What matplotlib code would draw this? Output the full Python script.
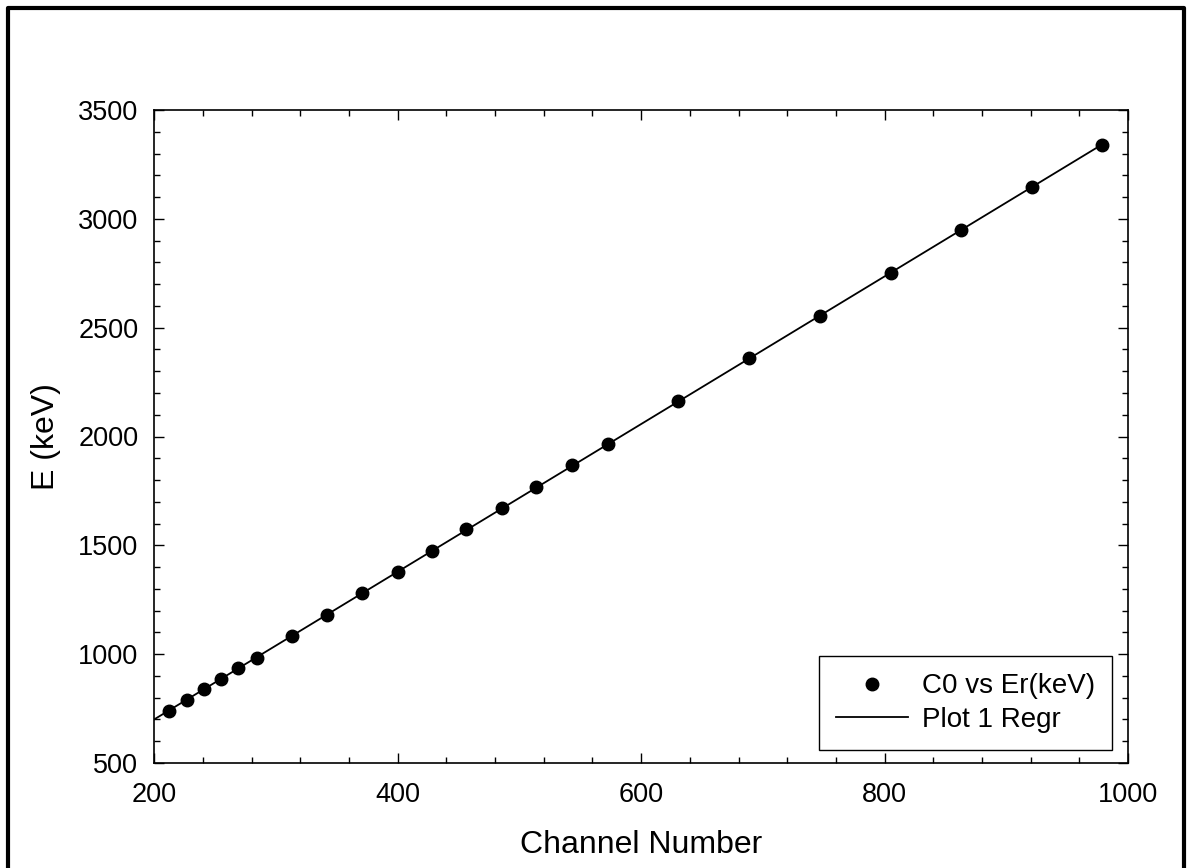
import matplotlib
matplotlib.use("Agg")
import matplotlib.pyplot as plt
import numpy as np
from matplotlib.ticker import MultipleLocator
from matplotlib.lines import Line2D

plt.rcParams['font.family'] = ['Liberation Sans', 'DejaVu Sans']

channel = [212, 227, 241, 255, 269, 284, 313, 342, 371, 400, 428, 456,
           485.5, 514, 543.5, 572.6, 630.6, 689, 747, 805, 862.6, 921.4, 979]
energy = [739, 788, 839, 888, 936, 984, 1083, 1182, 1279, 1377, 1475, 1573,
          1671.5, 1770, 1867.5, 1966, 2162, 2360, 2555, 2751, 2947, 3145, 3341]
series_label = "C0 vs Er(keV)"
fit_label = "Plot 1 Regr"
x_label = "Channel Number"
y_label = "E (keV)"

W, H = 1188, 868
fig = plt.figure(figsize=(W / 100, H / 100), dpi=100)
L, R, T, B = 154.3, 1128, 110, 763
ax = fig.add_axes([L / W, 1 - B / H, (R - L) / W, (B - T) / H])

x = np.array(channel)
y = np.array(energy)
slope, intercept = np.polyfit(x, y, 1)
xf = np.array([200, x.max()])
ax.plot(xf, slope * xf + intercept, color='black', lw=1.3, label=fit_label, zorder=2)
ax.plot(x, y, 'o', color='black', ms=9, label=series_label, zorder=3, clip_on=False)

ax.set_xlim(200, 1000)
ax.set_ylim(500, 3500)
ax.xaxis.set_major_locator(MultipleLocator(200))
ax.xaxis.set_minor_locator(MultipleLocator(40))
ax.yaxis.set_major_locator(MultipleLocator(500))
ax.yaxis.set_minor_locator(MultipleLocator(100))
ax.tick_params(which='both', direction='in', top=True, right=True, width=1.0, color='black')
ax.tick_params(which='major', length=7)
ax.tick_params(which='minor', length=4.5)
ax.tick_params(axis='y', which='major', labelsize=19.5, pad=11.5)
ax.tick_params(axis='x', which='major', labelsize=19.5, pad=14)
for s in ax.spines.values():
    s.set_linewidth(1.2)

ax.set_xlabel(x_label, fontsize=23)
ax.xaxis.set_label_coords(0.5, -(845 - B) / (B - T))
ax.xaxis.label.set_va('center')
ax.set_ylabel(y_label, fontsize=23)
ax.yaxis.set_label_coords((46 - L) / (R - L), 0.5)
ax.yaxis.label.set_va('center')

handles = [Line2D([], [], ls='none', marker='o', color='black', ms=9),
           Line2D([], [], color='black', lw=1.3)]
leg = ax.legend(handles, [series_label, fit_label], loc='lower right',
                bbox_to_anchor=((1112.3 - L) / (R - L), (B - 750) / (B - T)),
                borderaxespad=0, fontsize=20, frameon=True, fancybox=False,
                edgecolor='black', framealpha=1, handlelength=2.6,
                handletextpad=0.5, borderpad=0.62, labelspacing=0.27)
leg.get_frame().set_linewidth(1.0)

# outer frame (left, top, right)
fx = [8 / W, 8 / W, 1184 / W, 1184 / W]
fy = [0, 1 - 8 / H, 1 - 8 / H, 0]
fig.add_artist(Line2D(fx, fy, transform=fig.transFigure, color='black', lw=3))

fig.savefig("out.png", dpi=100)
